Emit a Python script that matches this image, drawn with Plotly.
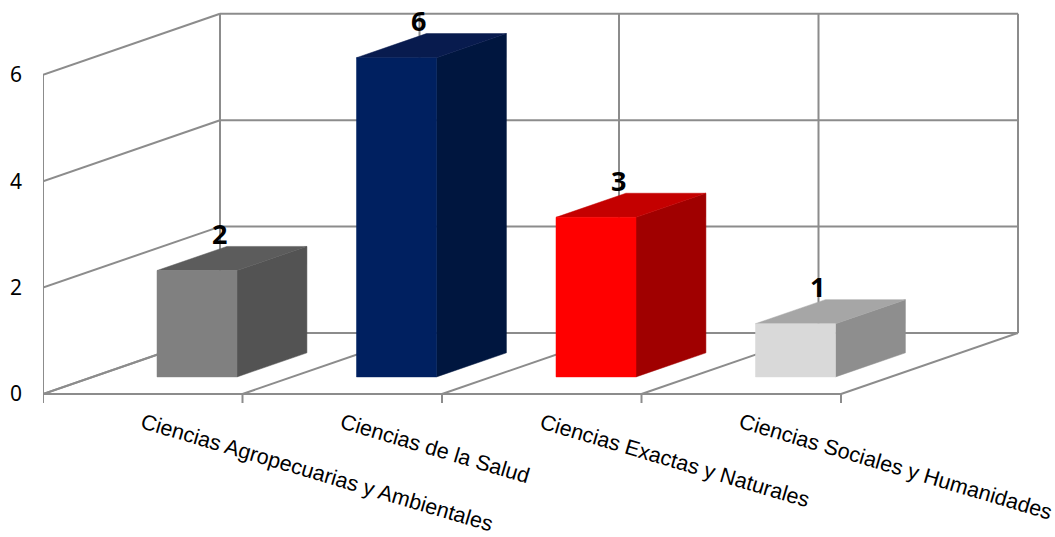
import plotly.graph_objects as go

# ---------------- data ----------------
categories = [
    "Ciencias Agropecuarias y Ambientales",
    "Ciencias de la Salud",
    "Ciencias Exactas y Naturales",
    "Ciencias Sociales y Humanidades",
]
values = [2, 6, 3, 1]
y_ticks = [0, 2, 4, 6]

front_colors = ["#808080", "#002060", "#FF0000", "#D9D9D9"]
side_colors = ["#535353", "#00163F", "#A00000", "#8E8E8E"]
top_colors = ["#5C5C5C", "#081B4E", "#C40000", "#A6A6A6"]

# ---------------- oblique projection (in axis units) ----------------
PX_X = 199.5          # pixels per category slot
PX_Y = 53.2           # pixels per value unit
DEPTH_X = 177 / PX_X  # depth offset, x units
DEPTH_Y = 61 / PX_Y   # depth offset, value units
BAR_D0, BAR_D1 = 0.28, 0.675
BAR_L, BAR_R = 0.323, 0.724
W, H = 1055, 537
ML = 43
FLOOR_PX = 394


def proj(x, y, d):
    return x + d * DEPTH_X, y + d * DEPTH_Y


fig = go.Figure()

# ---------------- walls / floor grid ----------------
gx, gy = [], []


def seg(p, q):
    gx.extend([p[0], q[0], None])
    gy.extend([p[1], q[1], None])


n = len(categories)
ymax = y_ticks[-1]
for v in y_ticks:
    seg(proj(-0.5, v, 0), proj(-0.5, v, 1))
    seg(proj(-0.5, v, 1), proj(n - 0.5, v, 1))
for k in range(n + 1):
    seg(proj(k - 0.5, 0, 1), proj(k - 0.5, ymax, 1))
    seg(proj(k - 0.5, 0, 0), proj(k - 0.5, 0, 1))
    seg((k - 0.5, 0), (k - 0.5, -9 / PX_Y))
seg(proj(-0.5, 0, 0), proj(-0.5, ymax, 0))
seg((-0.5, 0), (n - 0.5, 0))

fig.add_trace(go.Scatter(x=gx, y=gy, mode="lines",
                         line=dict(color="#8C8C8C", width=2),
                         hoverinfo="skip", showlegend=False))

# ---------------- bars ----------------
def poly(pts, color):
    xs = [p[0] for p in pts] + [pts[0][0]]
    ys = [p[1] for p in pts] + [pts[0][1]]
    fig.add_trace(go.Scatter(x=xs, y=ys, mode="lines", fill="toself",
                             fillcolor=color, line=dict(color=color, width=0.5),
                             hoverinfo="skip", showlegend=False))


for i, v in enumerate(values):
    x0 = i - 0.5 + BAR_L
    x1 = i - 0.5 + BAR_R
    side = [proj(x1, 0, BAR_D0), proj(x1, 0, BAR_D1), proj(x1, v, BAR_D1), proj(x1, v, BAR_D0)]
    top = [proj(x0, v, BAR_D0), proj(x1, v, BAR_D0), proj(x1, v, BAR_D1), proj(x0, v, BAR_D1)]
    front = [proj(x0, 0, BAR_D0), proj(x1, 0, BAR_D0), proj(x1, v, BAR_D0), proj(x0, v, BAR_D0)]
    poly(side, side_colors[i])
    poly(top, top_colors[i])
    poly(front, front_colors[i])
    cx, cy = proj((x0 + x1) / 2, v, BAR_D0)
    fig.add_annotation(x=cx + 22 / PX_X, y=cy, text=f"<b>{v}</b>", showarrow=False,
                       yshift=37, xanchor="center", yanchor="middle",
                       font=dict(family="Noto Sans", size=27, color="black"))

# ---------------- category labels ----------------
for i, c in enumerate(categories):
    fig.add_annotation(x=i, y=0, text=c, showarrow=False, textangle=16.5,
                       xanchor="left", yanchor="top", xshift=-7, yshift=-13,
                       font=dict(family="Liberation Sans", size=21.5, color="black"))

# ---------------- layout ----------------
fig.update_layout(
    width=W, height=H,
    margin=dict(l=ML, r=0, t=0, b=0),
    paper_bgcolor="white", plot_bgcolor="white",
    showlegend=False,
    xaxis=dict(range=[-0.5, -0.5 + (W - ML) / PX_X], visible=False, fixedrange=True),
    yaxis=dict(range=[-(H - FLOOR_PX) / PX_Y, FLOOR_PX / PX_Y],
               tickmode="array", tickvals=y_ticks, ticktext=[str(t) for t in y_ticks],
               showgrid=False, zeroline=False, showline=False, ticks="",
               ticklabelstandoff=20,
               tickfont=dict(family="Noto Sans", size=21, color="black"),
               fixedrange=True),
)

fig.write_html("out.html",
               config={"displayModeBar": False, "staticPlot": True},
               post_script="document.body.style.margin='0';document.body.style.overflow='hidden';")
